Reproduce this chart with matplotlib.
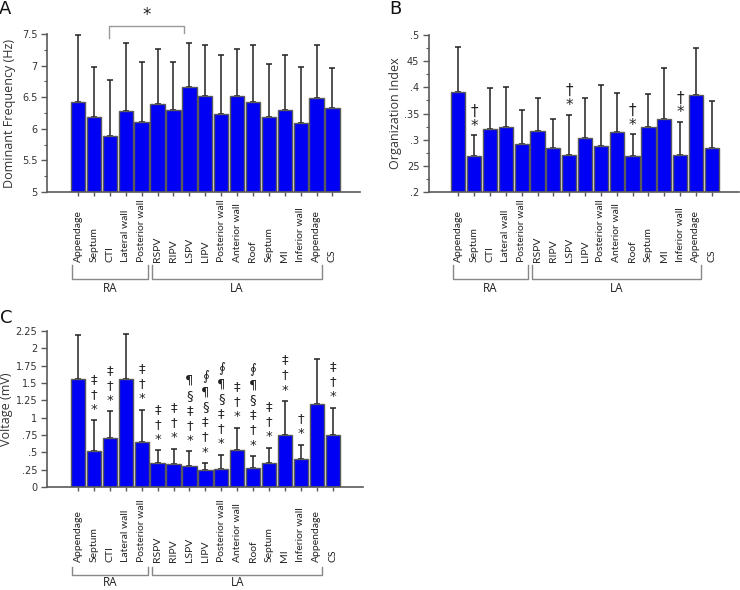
import numpy as np
import matplotlib
matplotlib.use('Agg')
import matplotlib.pyplot as plt
from matplotlib.transforms import offset_copy
from matplotlib.ticker import MultipleLocator

sites = ['Appendage', 'Septum', 'CTI', 'Lateral wall', 'Posterior wall',
         'RSPV', 'RIPV', 'LSPV', 'LIPV', 'Posterior wall', 'Anterior wall',
         'Roof', 'Septum', 'MI', 'Inferior wall', 'Appendage', 'CS']

# A: dominant frequency (Hz), mean and upper SD
df_mean = [6.42, 6.19, 5.88, 6.28, 6.10, 6.39, 6.29, 6.66, 6.52, 6.23, 6.52,
           6.42, 6.19, 6.29, 6.09, 6.48, 6.33]
df_sd = [1.07, 0.79, 0.89, 1.07, 0.96, 0.87, 0.76, 0.70, 0.81, 0.93, 0.75,
         0.90, 0.84, 0.87, 0.89, 0.84, 0.63]

# B: organization index
oi_mean = [0.391, 0.269, 0.321, 0.325, 0.291, 0.317, 0.285, 0.271, 0.304, 0.288,
           0.314, 0.269, 0.325, 0.339, 0.271, 0.385, 0.284]
oi_sd = [0.087, 0.039, 0.078, 0.076, 0.066, 0.063, 0.054, 0.077, 0.076, 0.117,
         0.076, 0.041, 0.062, 0.098, 0.063, 0.091, 0.089]
oi_marks = ['', '*†', '', '', '', '', '', '*†', '', '', '', '*†', '', '', '*†', '', '']

# C: voltage (mV)
volt_mean = [1.56, 0.515, 0.712, 1.56, 0.645, 0.34, 0.327, 0.30, 0.24, 0.265, 0.53,
             0.28, 0.352, 0.746, 0.41, 1.20, 0.756]
volt_sd = [0.63, 0.447, 0.378, 0.64, 0.472, 0.19, 0.227, 0.215, 0.106, 0.202, 0.327,
           0.167, 0.211, 0.494, 0.20, 0.65, 0.39]
volt_marks = ['', '*†‡', '*†‡', '', '*†‡', '*†‡', '*†‡', '*†‡§¶', '*†‡§¶∮', '*†‡§¶∮',
              '*†‡', '*†‡§¶∮', '*†‡', '*†‡', '*†', '', '*†‡']

groups = [('RA', -0.35, 4.4), ('LA', 4.65, 15.35)]

BLUE = '#0000F5'
GRAY = '#5a5a5a'
TXT = '#333333'

fig = plt.figure(figsize=(7.4, 5.9), dpi=100)
W, H = 740, 590


def make_ax(left, bottom, right, top):
    return fig.add_axes([left / W, 1 - bottom / H, (right - left) / W, (bottom - top) / H])


def bar_panel(ax, mean, sd, ylim, ticks, ticklabels, ylabel, xlim,
              lab_off, br_top, br_bot, grp_off, minor=None):
    x = np.arange(len(mean))
    ax.bar(x, np.array(mean) - ylim[0], bottom=ylim[0], width=0.9, color=BLUE,
           edgecolor=GRAY, linewidth=1.0, zorder=2)
    ax.errorbar(x, mean, yerr=[np.zeros(len(sd)), sd], fmt='none', ecolor='#222222',
                elinewidth=1.1, capsize=2.5, capthick=1.1, zorder=1)
    ax.set_xlim(*xlim)
    ax.set_ylim(*ylim)
    ax.set_yticks(ticks)
    ax.set_yticklabels(ticklabels, fontsize=7, color=TXT)
    if minor:
        ax.yaxis.set_minor_locator(MultipleLocator(minor))
    ax.set_xticks(x)
    ax.set_xticklabels([])
    ax.tick_params(axis='x', length=3, color=GRAY, width=1)
    ax.tick_params(axis='y', which='major', length=4, color=GRAY, width=1, pad=3)
    ax.tick_params(axis='y', which='minor', length=2, color=GRAY, width=0.8)
    for s in ['top', 'right']:
        ax.spines[s].set_visible(False)
    for s in ['left', 'bottom']:
        ax.spines[s].set_color(GRAY)
        ax.spines[s].set_linewidth(1.2)
    ax.set_ylabel(ylabel, fontsize=9, color=TXT, family='Open Sans')

    # rotated site labels, bottom-aligned
    base = ax.get_xaxis_transform()
    tr = offset_copy(base, fig=fig, y=-lab_off, units='dots')
    for i, name in enumerate(sites):
        ax.text(i, 0, name, transform=tr, rotation=90, ha='center', va='bottom',
                fontsize=7.5, color='#222222', family='Lato')

    # group brackets, drawn in pixel offsets below the axis
    y0 = base.transform((0, 0))[1]
    for name, x0, x1 in groups:
        xs = [base.transform((xv, 0))[0] for xv in (x0, x0, x1, x1)]
        ys = [y0 - br_top, y0 - br_bot, y0 - br_bot, y0 - br_top]
        fig.add_artist(plt.Line2D(xs, ys, transform=None, color='#888888', lw=1.0))
        t_grp = offset_copy(base, fig=fig, y=-grp_off, units='dots')
        ax.text((x0 + x1) / 2, 0, name, transform=t_grp, ha='center', va='center',
                fontsize=8.5, color='#222222', family='Open Sans')
    return x


# ---- A ----
axA = make_ax(47, 192, 360, 34)
bar_panel(axA, df_mean, df_sd, (5, 7.5), [5, 5.5, 6, 6.5, 7, 7.5],
          ['5', '5.5', '6', '6.5', '7', '7.5'], 'Dominant Frequency (Hz)',
          (-1.95, 17.73), 70, 73, 87, 96, minor=0.25)
axA.yaxis.set_label_coords(-0.1, 0.5)
axA.plot([1.95, 1.95, 6.65, 6.65], [7.437, 7.627, 7.627, 7.516], color='#999999',
         lw=1.0, clip_on=False)
axA.text(4.3, 7.66, '*', ha='center', va='bottom', fontsize=12, color='#222222')

# ---- B ----
axB = make_ax(429, 192, 739, 35)
bar_panel(axB, oi_mean, oi_sd, (0.2, 0.5), [0.2, 0.25, 0.3, 0.35, 0.4, 0.45, 0.5],
          ['.2', '25', '.3', '.35', '.4', '45', '.5'], 'Organization Index',
          (-1.85, 17.72), 70, 73, 87, 96, minor=0.025)
axB.yaxis.set_label_coords(-0.087, 0.5)
for i, m in enumerate(oi_marks):
    for k, ch in enumerate(m):
        axB.annotate(ch, xy=(i, oi_mean[i] + oi_sd[i]), xytext=(0, 9 + 15 * k),
                     textcoords='offset pixels', ha='center', va='center',
                     fontsize=11, color='#222222')

# ---- C ----
axC = make_ax(47, 487, 363, 331)
bar_panel(axC, volt_mean, volt_sd, (0, 2.25), np.arange(0, 2.26, 0.25),
          ['0', '.25', '.5', '.75', '1', '1.25', '1.5', '1.75', '2', '2.25'],
          'Voltage (mV)', (-1.95, 17.9), 75, 80, 88, 95)
axC.yaxis.set_label_coords(-0.108, 0.5)
for i, m in enumerate(volt_marks):
    for k, ch in enumerate(m):
        axC.annotate(ch, xy=(i, volt_mean[i] + volt_sd[i]), xytext=(0, 11 + 15 * k),
                     textcoords='offset pixels', ha='center', va='center',
                     fontsize=9.5, color='#222222')

fig.text(5 / W, 1 - 9 / H, 'A', fontsize=13, ha='center', va='center', color='#111111')
fig.text(395 / W, 1 - 9 / H, 'B', fontsize=13, ha='center', va='center', color='#111111')
fig.text(6 / W, 1 - 318 / H, 'C', fontsize=13, ha='center', va='center', color='#111111')

fig.savefig('out.png', dpi=100)
